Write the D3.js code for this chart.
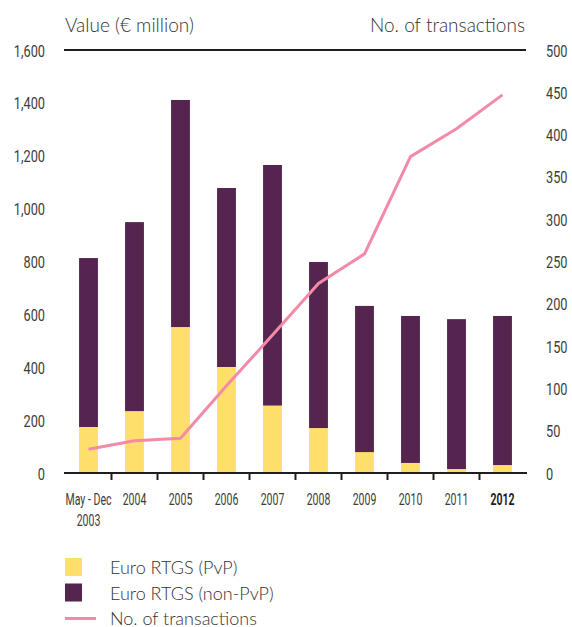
<!DOCTYPE html>
<html>
<head>
<meta charset="utf-8">
<title>Euro RTGS</title>
<script src="https://cdn.jsdelivr.net/npm/d3@7"></script>
<style>
  body { margin: 0; background: #fff; }
  text { fill: #3c3c3c; }
  .tick-lab { font-family: Roboto, sans-serif; font-size: 17px; }
  .head, .leg { font-family: Lato, "Open Sans", sans-serif; font-size: 19px; font-weight: 300; fill: #333; }
  .leg { font-size: 18px; }
</style>
</head>
<body>
<script>
// data
var years = ["2003", "2004", "2005", "2006", "2007", "2008", "2009", "2010", "2011", "2012"];
var yearLabels = [["May - Dec", "2003"], ["2004"], ["2005"], ["2006"], ["2007"], ["2008"], ["2009"], ["2010"], ["2011"], ["2012"]];
var pvp = [174, 234, 552, 401, 255, 170, 79, 38, 15, 30];
var nonPvp = [639, 715, 859, 677, 910, 628, 553, 556, 567, 564];
var transactions = [28, 38, 41, 103, 163, 224, 259, 374, 407, 447];
var leftTicks = [0, 200, 400, 600, 800, 1000, 1200, 1400, 1600];
var rightTicks = [0, 50, 100, 150, 200, 250, 300, 350, 400, 450, 500];

var yellow = "#ffdf6b", purple = "#55244f", pink = "#f38aa8";

var svg = d3.select("body").append("svg").attr("width", 572).attr("height", 627);

var x = d3.scaleBand().domain(years).range([65.5, 525.5]).paddingInner(0.59).paddingOuter(0.295);
var yL = d3.scaleLinear().domain([0, 1600]).range([473, 50]);
var yR = d3.scaleLinear().domain([0, 500]).range([473, 50]);

// condensed look: squeeze the text horizontally
function squeeze(px, py, s) { return "translate(" + px + "," + py + ") scale(" + s + ",1)"; }

// headers
svg.append("text").attr("class", "head").attr("x", 65).attr("y", 32).text("Value (€ million)");
svg.append("text").attr("class", "head").attr("x", 525).attr("y", 32).attr("text-anchor", "end").text("No. of transactions");

// top rule
svg.append("line").attr("x1", 64).attr("x2", 526).attr("y1", yL(1600)).attr("y2", yL(1600))
  .attr("stroke", "#1e1e1e").attr("stroke-width", 2);

// left axis labels
svg.selectAll(".ll").data(leftTicks).enter().append("text")
  .attr("class", "tick-lab").attr("text-anchor", "end")
  .attr("transform", function(d) { return squeeze(45, yL(d) + 6.5, 0.75); })
  .text(function(d) { return d3.format(",")(d); });

// right axis labels
svg.selectAll(".rl").data(rightTicks).enter().append("text")
  .attr("class", "tick-lab")
  .attr("transform", function(d) { return squeeze(546, yR(d) + 6.5, 0.75); })
  .text(function(d) { return d; });

// stacked bars
var stack = years.map(function(y, i) { return { year: y, pvp: pvp[i], non: nonPvp[i] }; });
var g = svg.append("g");
g.selectAll(".pvp").data(stack).enter().append("rect")
  .attr("x", function(d) { return x(d.year); }).attr("width", x.bandwidth())
  .attr("y", function(d) { return yL(d.pvp); })
  .attr("height", function(d) { return yL(0) - yL(d.pvp); })
  .attr("fill", yellow);
g.selectAll(".non").data(stack).enter().append("rect")
  .attr("x", function(d) { return x(d.year); }).attr("width", x.bandwidth())
  .attr("y", function(d) { return yL(d.pvp + d.non); })
  .attr("height", function(d) { return yL(d.pvp) - yL(d.pvp + d.non); })
  .attr("fill", purple);

// transactions line
var line = d3.line()
  .x(function(d, i) { return x(years[i]) + x.bandwidth() / 2; })
  .y(function(d) { return yR(d); });
svg.append("path").datum(transactions).attr("d", line)
  .attr("fill", "none").attr("stroke", pink).attr("stroke-width", 3);

// x axis
svg.append("line").attr("x1", 64).attr("x2", 527).attr("y1", 473).attr("y2", 473)
  .attr("stroke", "#1e1e1e").attr("stroke-width", 2);
var step = x.step();
svg.selectAll(".xt").data(years.slice(1)).enter().append("line")
  .attr("x1", function(d) { return x(d) - (step - x.bandwidth()) / 2; })
  .attr("x2", function(d) { return x(d) - (step - x.bandwidth()) / 2; })
  .attr("y1", 473).attr("y2", 480).attr("stroke", "#1e1e1e").attr("stroke-width", 2);

var xl = svg.selectAll(".xl").data(years).enter().append("text")
  .attr("class", "tick-lab").attr("text-anchor", "middle")
  .style("font-weight", function(d) { return d === "2012" ? "bold" : null; })
  .style("fill", function(d) { return d === "2012" ? "#1e1e1e" : null; })
  .attr("transform", function(d) { return squeeze(x(d) + x.bandwidth() / 2, 505, 0.62); });
xl.each(function(d, i) {
  var t = d3.select(this);
  yearLabels[i].forEach(function(s, k) {
    t.append("tspan").attr("x", 0).attr("dy", k ? 21 : 0).text(s);
  });
});

// legend
var legend = [
  { label: "Euro RTGS (PvP)", color: yellow, type: "box" },
  { label: "Euro RTGS (non-PvP)", color: purple, type: "box" },
  { label: "No. of transactions", color: pink, type: "line" }
];
var lg = svg.selectAll(".lg").data(legend).enter().append("g")
  .attr("transform", function(d, i) { return "translate(65," + (558 + i * 25.5) + ")"; });
lg.filter(function(d) { return d.type === "box"; }).append("rect")
  .attr("width", 17).attr("height", 18).attr("fill", function(d) { return d.color; });
lg.filter(function(d) { return d.type === "line"; }).append("line")
  .attr("x1", 0).attr("x2", 31).attr("y1", 9.5).attr("y2", 9.5)
  .attr("stroke", function(d) { return d.color; }).attr("stroke-width", 3);
lg.append("text").attr("class", "leg").attr("x", 45).attr("y", 16).text(function(d) { return d.label; });
</script>
</body>
</html>
